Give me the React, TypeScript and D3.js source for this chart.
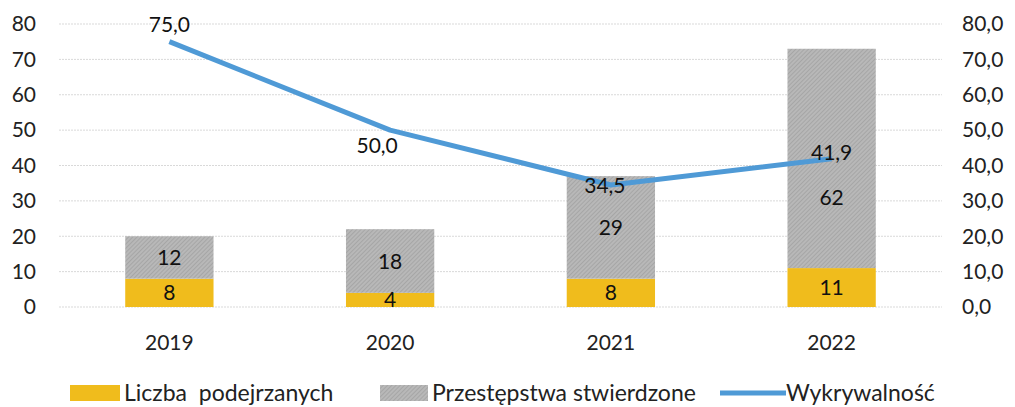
import React from 'react';
import * as d3 from 'd3';

const years = ['2019', '2020', '2021', '2022'];
const suspects = [8, 4, 8, 11];
const crimes = [12, 18, 29, 62];
const detection = [75.0, 50.0, 34.5, 41.9];
const leftTicks = [0, 10, 20, 30, 40, 50, 60, 70, 80];
const rightTicks = [0, 10, 20, 30, 40, 50, 60, 70, 80];
// label offsets for the line values (dx, dy) in px
const lineLabelOffset = [[0, -17], [-13, 16], [-6, 1], [0, -6]];
// the 62 label sits lower in the original
const crimeLabelDy = [0, 0, 0, 39];

const W = 1015;
const H = 407;
const font = 'Lato, "Open Sans", sans-serif';

export default function App() {
  const x = d3.scaleBand().domain(years).range([59, 942]).paddingInner(0.6).paddingOuter(0.3);
  const y = d3.scaleLinear().domain([0, 80]).range([307, 24]);
  const y2 = d3.scaleLinear().domain([0, 80]).range([307, 24]);
  const cx = (d: string) => (x(d) as number) + x.bandwidth() / 2;

  const line = d3.line<number>()
    .x((_, i) => cx(years[i]))
    .y(d => y2(d));

  return (
    <svg width={W} height={H} style={{ position: 'absolute', left: 0, top: 0, background: '#fff' }}>
      <defs>
        <pattern id="hatch" width="3" height="3" patternUnits="userSpaceOnUse" patternTransform="rotate(45)">
          <rect width="3" height="3" fill="#b8b8b8" />
          <line x1="0" y1="0" x2="0" y2="3" stroke="#949494" strokeWidth="1" />
        </pattern>
      </defs>

      {leftTicks.map(t => (
        <line key={'g' + t} x1={59} x2={942} y1={y(t)} y2={y(t)} stroke="#d9d9d9" strokeWidth={1} strokeDasharray="2 1" />
      ))}

      {leftTicks.map(t => (
        <text key={'l' + t} x={36} y={y(t)} dy="0.35em" textAnchor="end" fontFamily={font} fontSize={21} fill="#222">{t}</text>
      ))}
      {rightTicks.map(t => (
        <text key={'r' + t} x={962} y={y2(t)} dy="0.35em" textAnchor="start" fontFamily={font} fontSize={21} fill="#222">{d3.format('.1f')(t).replace('.', ',')}</text>
      ))}

      {years.map((yr, i) => (
        <g key={yr}>
          <rect x={x(yr)} width={x.bandwidth()} y={y(suspects[i])} height={y(0) - y(suspects[i])} fill="#f0bc1c" />
          <rect x={x(yr)} width={x.bandwidth()} y={y(suspects[i] + crimes[i])} height={y(suspects[i]) - y(suspects[i] + crimes[i])} fill="url(#hatch)" />
          <text x={cx(yr)} y={y(suspects[i] / 2)} dy="0.36em" textAnchor="middle" fontFamily={font} fontSize={21} fill="#111">{suspects[i]}</text>
          <text x={cx(yr)} y={y(suspects[i] + crimes[i] / 2) + crimeLabelDy[i]} dy="0.36em" textAnchor="middle" fontFamily={font} fontSize={21} fill="#111">{crimes[i]}</text>
          <text x={cx(yr)} y={343} dy="0.35em" textAnchor="middle" fontFamily={font} fontSize={21} fill="#222">{yr}</text>
        </g>
      ))}

      <path d={line(detection) as string} fill="none" stroke="#4f9ad6" strokeWidth={5} strokeLinejoin="round" />

      {detection.map((v, i) => (
        <text key={'d' + i} x={cx(years[i]) + lineLabelOffset[i][0]} y={y2(v) + lineLabelOffset[i][1]} dy="0.35em" textAnchor="middle" fontFamily={font} fontSize={21} fill="#111">
          {d3.format('.1f')(v).replace('.', ',')}
        </text>
      ))}

      <g fontFamily={font} fontSize={23} fill="#222">
        <rect x={70} y={385} width={50} height={16} fill="#f0bc1c" />
        <text x={124} y={393} dy="0.35em" style={{ whiteSpace: 'pre' }}>Liczba  podejrzanych</text>
        <rect x={380} y={385} width={48} height={16} fill="url(#hatch)" />
        <text x={432} y={393} dy="0.35em">Przestępstwa stwierdzone</text>
        <line x1={720} x2={786} y1={393} y2={393} stroke="#4f9ad6" strokeWidth={5} />
        <text x={786} y={393} dy="0.35em">Wykrywalność</text>
      </g>
    </svg>
  );
}
